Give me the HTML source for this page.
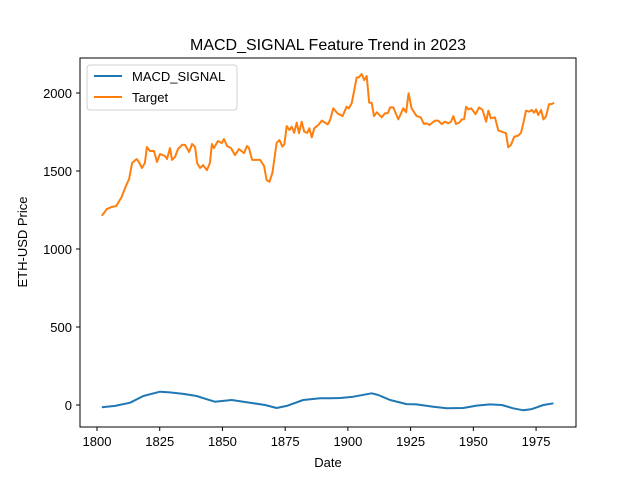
<!DOCTYPE html>
<html><head><meta charset="utf-8"><style>
body{margin:0;background:#fff;}
svg{font-family:"Liberation Sans","DejaVu Sans",sans-serif;}
</style></head><body>
<svg id="chart" width="640" height="480" viewBox="0 0 640 480">
<rect width="640" height="480" fill="#fff"/>
<text x="328" y="50" text-anchor="middle" font-size="16">MACD_SIGNAL Feature Trend in 2023</text>
<g id="xticks"></g><g id="yticks"></g>
<g id="series"></g>
<rect x="80" y="58" width="496" height="369" fill="none" stroke="#000" stroke-width="1"/>
<text x="328" y="467" text-anchor="middle" font-size="13">Date</text>
<text x="27" y="242" text-anchor="middle" font-size="13" transform="rotate(-90 27 242)">ETH-USD Price</text>
<g>
<rect x="87" y="65" width="150" height="45" rx="3" fill="#fff" stroke="#ccc" opacity="0.9"/>
<line x1="94" y1="76" x2="122" y2="76" stroke="#1f77b4" stroke-width="2"/>
<text x="132" y="81" font-size="13">MACD_SIGNAL</text>
<line x1="94" y1="97" x2="122" y2="97" stroke="#ff7f0e" stroke-width="2"/>
<text x="132" y="102" font-size="13">Target</text>
</g>
</svg>
<script>
const xTicks=[1800,1825,1850,1875,1900,1925,1950,1975];
const yTicks=[0,500,1000,1500,2000];
const targetDates=[1801.9,1803.9,1805.9,1807.6,1809.8,1811.2,1812.8,1814,1815.8,1816.7,1817.9,1819.1,1819.9,1821.1,1822.7,1823.9,1825.1,1827.1,1827.9,1829.1,1829.9,1831.1,1832.3,1833.9,1835.1,1836.7,1837.9,1839.1,1839.9,1841.1,1842.3,1843.8,1845,1845.8,1846.6,1848.2,1849.8,1850.6,1851.8,1853.4,1855,1856.6,1858.6,1859.8,1860.6,1861.8,1865,1866.6,1867.6,1868.7,1869.9,1871.6,1872.7,1873.9,1874.7,1875.6,1876.7,1877.6,1878.6,1879.6,1880.5,1881.6,1882.6,1883.8,1884.6,1885.6,1886.6,1888.2,1889.6,1892,1892.9,1894.2,1895.8,1897.9,1899.5,1900.4,1901.5,1903.5,1904.4,1905.5,1906.5,1907.5,1908.5,1909.5,1910.4,1911.5,1913.5,1914.8,1915.9,1916.8,1918.1,1920.1,1922.1,1923.2,1924.2,1925.4,1927.4,1929,1930.3,1931.4,1932.5,1934.7,1936,1937.4,1938.7,1940,1941.1,1942,1943.1,1944.4,1945.4,1946.3,1947.1,1948,1949.1,1950.9,1952.3,1953.7,1955.1,1956,1957,1958.6,1960,1961.3,1963,1963.9,1965,1966.3,1967.9,1969,1969.9,1971,1972.2,1973.3,1974.2,1975,1975.9,1977,1977.9,1978.9,1980.2,1981.2,1982.2];
const targetValues=[1213,1256,1270,1275,1333,1391,1449,1551,1577,1558,1519,1551,1654,1628,1628,1558,1609,1596,1577,1647,1571,1590,1641,1667,1667,1622,1673,1654,1551,1519,1538,1506,1551,1673,1647,1692,1679,1705,1660,1647,1602,1641,1615,1660,1647,1571,1571,1532,1442,1431,1487,1679,1699,1656,1673,1788,1763,1784,1745,1810,1743,1816,1752,1745,1774,1716,1774,1795,1823,1799,1827,1902,1870,1852,1912,1902,1934,2100,2100,2122,2083,2109,1938,1938,1852,1876,1844,1870,1870,1908,1908,1831,1902,1876,1998,1902,1852,1844,1801,1806,1795,1823,1823,1801,1816,1806,1816,1852,1801,1810,1831,1831,1912,1895,1902,1865,1908,1891,1816,1887,1838,1844,1759,1752,1742,1652,1667,1720,1727,1745,1806,1887,1880,1891,1874,1895,1859,1891,1831,1848,1929,1929,1938];
const macdDates=[1801.9,1807.2,1813.2,1818.5,1825.1,1829.1,1834.4,1839.7,1843.7,1847,1853.7,1861,1867,1871.6,1875.6,1882.2,1888.9,1892.9,1897,1902.2,1909.5,1912.1,1916.8,1923.4,1927.4,1934,1939.4,1946,1951.3,1956.6,1961.3,1965.9,1969.9,1973.3,1977.9,1981.9];
const macdValues=[-15,-6,15,58,85,81,71,58,37,21,32,15,0,-19,-6,32,43,43,45,53,75,64,32,6,4,-11,-21,-19,-4,4,0,-21,-34,-26,0,11];

const NS="http://www.w3.org/2000/svg";
function sx(d){return 97+(d-1800)*2.509;}
function sy(v){return 405-v*0.156;}
const svg=document.getElementById('chart');
const xg=document.getElementById('xticks'),yg=document.getElementById('yticks'),sg=document.getElementById('series');
xTicks.forEach(t=>{
 const l=document.createElementNS(NS,'line');
 l.setAttribute('x1',sx(t));l.setAttribute('x2',sx(t));l.setAttribute('y1',427);l.setAttribute('y2',431);l.setAttribute('stroke','#000');
 
 
 xg.appendChild(l);
 const tx=document.createElementNS(NS,'text');
 tx.setAttribute('x',sx(t));tx.setAttribute('y',446);tx.setAttribute('text-anchor','middle');tx.setAttribute('font-size','13');
 tx.textContent=t;
 
 
 xg.appendChild(tx);
});
yTicks.forEach(t=>{
 const l=document.createElementNS(NS,'line');
 l.setAttribute('x1',76);l.setAttribute('x2',80);l.setAttribute('y1',sy(t));l.setAttribute('y2',sy(t));l.setAttribute('stroke','#000');
 
 
 yg.appendChild(l);
 const tx=document.createElementNS(NS,'text');
 tx.setAttribute('x',72);tx.setAttribute('y',sy(t)+5);tx.setAttribute('text-anchor','end');tx.setAttribute('font-size','13');
 tx.textContent=t;
 
 
 yg.appendChild(tx);
});
function line(ds,vs,color,name){
 const p=document.createElementNS(NS,'polyline');
 p.setAttribute('points',ds.map((d,i)=>sx(d).toFixed(1)+','+sy(vs[i]).toFixed(1)).join(' '));
 p.setAttribute('fill','none');p.setAttribute('stroke',color);p.setAttribute('stroke-width','2');p.setAttribute('stroke-linejoin','round');
 
 
 sg.appendChild(p);
}
line(macdDates,macdValues,'#1f77b4','macd-signal-line');
line(targetDates,targetValues,'#ff7f0e','target-line');
</script>
</body></html>
